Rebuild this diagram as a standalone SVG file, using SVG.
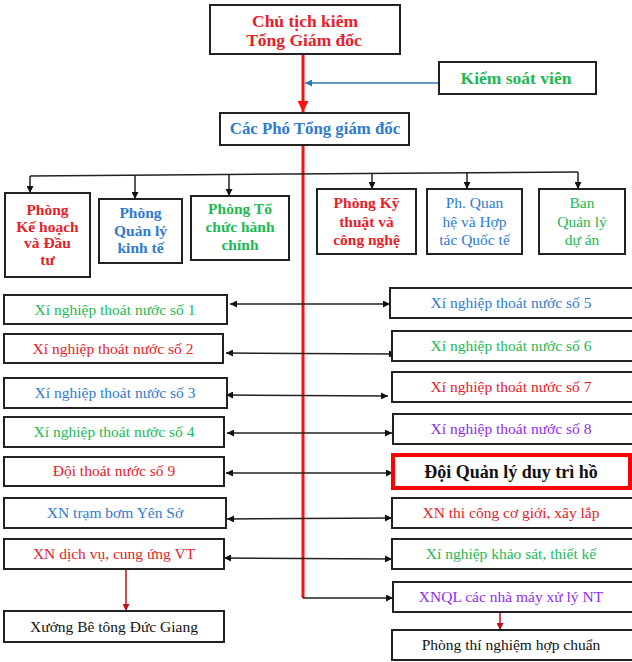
<svg xmlns="http://www.w3.org/2000/svg" width="632" height="662" viewBox="0 0 632 662">
<style>
.box{fill:#fff;stroke:#222;stroke-width:2}
.t{font-family:"Liberation Serif","Times New Roman",serif;text-anchor:middle;font-size:15.5px}
.b{font-weight:bold}
.red{fill:#e8202a}
.blue{fill:#2e7bd0}
.green{fill:#1db954}
.purple{fill:#8f2cf0}
.blk{fill:#111}
.conn{fill:none;stroke:#222;stroke-width:1.5}
</style>
<defs>
<marker id="ah" viewBox="0 0 10 10" refX="10" refY="5" markerWidth="8" markerHeight="7" markerUnits="userSpaceOnUse" orient="auto-start-reverse"><path d="M0,0 L10,5 L0,10 Z" fill="#111"/></marker>
<marker id="ahr" viewBox="0 0 10 10" refX="10" refY="5" markerWidth="12" markerHeight="11" markerUnits="userSpaceOnUse" orient="auto"><path d="M0,0 L10,5 L0,10 Z" fill="#ff1010"/></marker>
<marker id="ahd" viewBox="0 0 10 10" refX="10" refY="5" markerWidth="8" markerHeight="7" markerUnits="userSpaceOnUse" orient="auto"><path d="M0,0 L10,5 L0,10 Z" fill="#c0101a"/></marker>
<marker id="ahb" viewBox="0 0 10 10" refX="10" refY="5" markerWidth="8" markerHeight="7" markerUnits="userSpaceOnUse" orient="auto"><path d="M0,0 L10,5 L0,10 Z" fill="#2e75b6"/></marker>
</defs>

<g id="connectors">
<line x1="303" y1="55" x2="303" y2="112" stroke="#ff1010" stroke-width="3" marker-end="url(#ahr)"/>
<polyline points="303,145 303,598" fill="none" stroke="#ff1010" stroke-width="3"/>
<line x1="439" y1="83" x2="305" y2="83" stroke="#2e75b6" stroke-width="1.5" marker-end="url(#ahb)"/>
<polyline class="conn" points="30,176 578,172"/>
<line class="conn" x1="30" y1="176" x2="30" y2="193" marker-end="url(#ah)"/>
<line class="conn" x1="135" y1="175" x2="135" y2="199" marker-end="url(#ah)"/>
<line class="conn" x1="229" y1="174" x2="229" y2="196" marker-end="url(#ah)"/>
<line class="conn" x1="372" y1="173" x2="372" y2="189" marker-end="url(#ah)"/>
<line class="conn" x1="467" y1="173" x2="467" y2="189" marker-end="url(#ah)"/>
<line class="conn" x1="578" y1="172" x2="578" y2="189" marker-end="url(#ah)"/>
<line class="conn" x1="230" y1="304" x2="390" y2="304" marker-start="url(#ah)" marker-end="url(#ah)"/>
<line class="conn" x1="226" y1="353" x2="396" y2="354" marker-start="url(#ah)" marker-end="url(#ah)"/>
<line class="conn" x1="226" y1="395" x2="388" y2="396" marker-start="url(#ah)" marker-end="url(#ah)"/>
<line class="conn" x1="227" y1="433" x2="392" y2="433" marker-start="url(#ah)" marker-end="url(#ah)"/>
<line class="conn" x1="226" y1="473" x2="393" y2="473" marker-start="url(#ah)" marker-end="url(#ah)"/>
<line class="conn" x1="227" y1="519" x2="392" y2="518" marker-start="url(#ah)" marker-end="url(#ah)"/>
<line class="conn" x1="224" y1="558" x2="392" y2="559" marker-start="url(#ah)" marker-end="url(#ah)"/>
<line class="conn" x1="303" y1="598" x2="393" y2="598" marker-end="url(#ah)"/>
<line x1="126" y1="569" x2="126" y2="611" stroke="#c0101a" stroke-width="1.5" marker-end="url(#ahd)"/>
<line x1="500" y1="612" x2="500" y2="630" stroke="#c0101a" stroke-width="1.5" marker-end="url(#ahd)"/>
</g>

<g id="chu-tich"><rect class="box" x="210" y="5" width="190" height="49"/>
<text class="t b red" x="305" y="27" style="font-size:17.5px">Chủ tịch kiêm</text>
<text class="t b red" x="304" y="46" style="font-size:17.5px">Tổng Giám đốc</text></g>

<g id="kiem-soat"><rect class="box" x="439" y="62" width="157" height="32"/>
<text class="t b green" x="516" y="84" style="font-size:17.5px">Kiểm soát viên</text></g>

<g id="pho-tgd"><rect class="box" x="220" y="113" width="189" height="32"/>
<text class="t b blue" x="315" y="134" style="font-size:16.8px">Các Phó Tổng giám đốc</text></g>

<g id="p-kh"><rect class="box" x="5" y="193" width="85" height="84"/>
<text class="t b red" x="47.5" y="215">Phòng</text><text class="t b red" x="47.5" y="232">Kế hoạch</text><text class="t b red" x="47.5" y="248">và Đầu</text><text class="t b red" x="47.5" y="265">tư</text></g>

<g id="p-qlkt"><rect class="box" x="99" y="199" width="83" height="64"/>
<text class="t b blue" x="140.5" y="218">Phòng</text><text class="t b blue" x="140.5" y="236">Quản lý</text><text class="t b blue" x="140.5" y="253">kinh tế</text></g>

<g id="p-tchc"><rect class="box" x="191" y="196" width="98" height="64"/>
<text class="t b green" x="240" y="214">Phòng Tổ</text><text class="t b green" x="240" y="232">chức hành</text><text class="t b green" x="240" y="250">chính</text></g>

<g id="p-ktcn"><rect class="box" x="317" y="189" width="99" height="65"/>
<text class="t b red" x="366.5" y="208">Phòng Kỹ</text><text class="t b red" x="366.5" y="227">thuật và</text><text class="t b red" x="366.5" y="245">công nghệ</text></g>

<g id="p-qh"><rect class="box" x="427" y="189" width="95" height="65"/>
<text class="t blue" x="474.5" y="208">Ph. Quan</text><text class="t blue" x="474.5" y="227">hệ và Hợp</text><text class="t blue" x="474.5" y="245">tác Quốc tế</text></g>

<g id="ban-qlda"><rect class="box" x="539" y="189" width="86" height="65"/>
<text class="t green" x="582" y="208">Ban</text><text class="t green" x="582" y="227">Quản lý</text><text class="t green" x="582" y="245">dự án</text></g>

<g id="xn1"><rect class="box" x="4" y="295" width="223" height="29"/><text class="t green" x="115" y="314.5">Xí nghiệp thoát nước số 1</text></g>
<g id="xn2"><rect class="box" x="4" y="334" width="219" height="29"/><text class="t red" x="113" y="353.5">Xí nghiệp thoát nước số 2</text></g>
<g id="xn3"><rect class="box" x="4" y="378" width="223" height="30"/><text class="t blue" x="115" y="398">Xí nghiệp thoát nước số 3</text></g>
<g id="xn4"><rect class="box" x="4" y="417" width="220" height="30"/><text class="t green" x="114" y="437">Xí nghiệp thoát nước số 4</text></g>
<g id="doi9"><rect class="box" x="4" y="457" width="220" height="29"/><text class="t red" x="114" y="476">Đội thoát nước số 9</text></g>
<g id="tram-bom"><rect class="box" x="4" y="498" width="222" height="30"/><text class="t blue" x="115" y="518">XN trạm bơm Yên Sở</text></g>
<g id="dich-vu"><rect class="box" x="4" y="539" width="220" height="30"/><text class="t red" x="114" y="559">XN dịch vụ, cung ứng VT</text></g>
<g id="xuong-bt"><rect class="box" x="4" y="611" width="220" height="31"/><text class="t blk" x="114" y="632">Xưởng Bê tông Đức Giang</text></g>

<g id="xn5"><rect class="box" x="390" y="288" width="246" height="30"/><text class="t blue" x="511" y="308">Xí nghiệp thoát nước số 5</text></g>
<g id="xn6"><rect class="box" x="392" y="331" width="244" height="30"/><text class="t green" x="511" y="351">Xí nghiệp thoát nước số 6</text></g>
<g id="xn7"><rect class="box" x="392" y="372" width="244" height="30"/><text class="t red" x="511" y="392">Xí nghiệp thoát nước số 7</text></g>
<g id="xn8"><rect class="box" x="393" y="414" width="243" height="30"/><text class="t purple" x="511" y="434">Xí nghiệp thoát nước số 8</text></g>
<g id="doi-ql-ho"><rect x="393" y="455" width="237" height="33" fill="#fff" stroke="#ff0000" stroke-width="4"/><text class="t b blk" x="511" y="478" style="font-size:18px">Đội Quản lý duy trì hồ</text></g>
<g id="thi-cong"><rect class="box" x="392" y="498" width="244" height="30"/><text class="t red" x="511" y="518">XN thi công cơ giới, xây lắp</text></g>
<g id="khao-sat"><rect class="box" x="392" y="539" width="244" height="30"/><text class="t green" x="511" y="559">Xí nghiệp khảo sát, thiết kế</text></g>
<g id="xnql"><rect class="box" x="393" y="582" width="243" height="30"/><text class="t purple" x="511" y="602">XNQL các nhà máy xử lý NT</text></g>
<g id="phong-tn"><rect class="box" x="392" y="630" width="244" height="30"/><text class="t blk" x="511" y="650">Phòng thí nghiệm hợp chuẩn</text></g>
</svg>
